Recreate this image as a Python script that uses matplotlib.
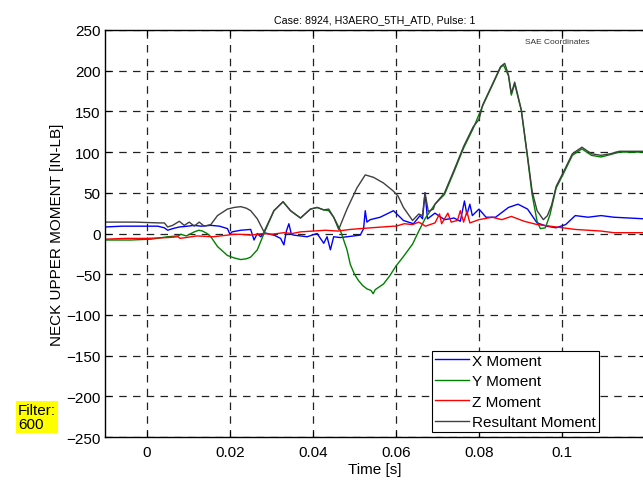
import numpy as np
import matplotlib
matplotlib.use("Agg")
import matplotlib.pyplot as plt

plt.rcParams['font.family'] = ['Liberation Sans', 'DejaVu Sans']

# (time [s], moment [in-lb]) samples for each channel
x_moment = [
    (-0.0101, 8), (-0.006, 9), (-0.003, 9), (0.0, 9), (0.0026, 9), (0.0042, 7), (0.005, 4),
    (0.0062, 6), (0.0078, 8), (0.0098, 9), (0.0114, 10), (0.013, 9), (0.0154, 10), (0.0175, 9),
    (0.0194, 6), (0.0200, -1), (0.0205, 2), (0.0226, 4), (0.025, 5), (0.0258, -8), (0.0266, 0),
    (0.0274, -4), (0.0282, 1), (0.0306, -2), (0.0322, -6), (0.033, -14), (0.0336, 3), (0.0342, 12),
    (0.0348, -1), (0.0354, -2), (0.0386, -4), (0.041, 0), (0.0418, -6), (0.0426, -12), (0.0434, -4),
    (0.0442, -20), (0.045, -4), (0.0466, -5), (0.0498, -3), (0.0514, -2), (0.0522, 6), (0.0526, 28),
    (0.053, 14), (0.0538, 17), (0.0562, 20), (0.0594, 28), (0.0618, 16), (0.0642, 12), (0.0658, 22),
    (0.0664, 18), (0.0670, 50), (0.0676, 18), (0.0694, 25), (0.0717, 17), (0.074, 19), (0.0755, 15),
    (0.0765, 40), (0.0771, 23), (0.0778, 36), (0.0784, 22), (0.08, 30), (0.0817, 20), (0.084, 20),
    (0.0871, 32), (0.0894, 36), (0.0917, 30), (0.094, 13), (0.0963, 9), (0.0986, 7), (0.1009, 11),
    (0.1032, 22), (0.1063, 20), (0.1094, 22), (0.1125, 20), (0.12, 18),
]

y_moment = [
    (-0.0101, -8), (-0.004, -8), (0.001, -7), (0.005, -4), (0.0075, -3), (0.0082, -1), (0.0095, -3),
    (0.0114, 2), (0.0125, 4), (0.0134, 3), (0.0145, 0), (0.0154, -4), (0.017, -16), (0.0194, -27),
    (0.021, -30), (0.0226, -32), (0.024, -31), (0.025, -29), (0.0266, -20), (0.0282, 0), (0.0306, 28),
    (0.0328, 39), (0.0346, 28), (0.037, 19), (0.0394, 30), (0.041, 32), (0.0426, 29), (0.0438, 28),
    (0.045, 20), (0.0466, 4), (0.0482, -20), (0.049, -38), (0.050, -50), (0.051, -58), (0.052, -64),
    (0.053, -68), (0.054, -70), (0.0545, -74), (0.055, -69), (0.057, -62), (0.0585, -52), (0.06, -40),
    (0.0617, -29), (0.064, -13), (0.0655, 3), (0.0671, 19), (0.0694, 36), (0.0717, 48), (0.074, 76),
    (0.0763, 105), (0.0786, 129), (0.0809, 157), (0.0832, 182), (0.0852, 204), (0.0859, 207),
    (0.0871, 194), (0.0878, 170), (0.0886, 184), (0.0902, 151), (0.0917, 93), (0.0928, 48), (0.094, 15),
    (0.0948, 6), (0.096, 7), (0.0971, 23), (0.0986, 56), (0.1002, 72), (0.1025, 96), (0.1048, 104),
    (0.1071, 96), (0.1094, 94), (0.1117, 97), (0.1138, 100), (0.12, 100),
]

z_moment = [
    (-0.0101, -7), (-0.005, -6), (0.0, -6), (0.005, -5), (0.0075, -4), (0.008, -6), (0.012, -3),
    (0.016, -4), (0.0194, -2), (0.0205, -1), (0.0226, -1), (0.025, -2), (0.028, 0), (0.03, -1),
    (0.033, 1), (0.035, 0), (0.037, 2), (0.04, 3), (0.043, 4), (0.046, 3), (0.049, 5), (0.0514, 6),
    (0.054, 7), (0.0594, 9), (0.06, 9), (0.062, 12), (0.064, 11), (0.0655, 14), (0.0671, 9),
    (0.0694, 13), (0.0705, 24), (0.071, 12), (0.0725, 25), (0.0733, 14), (0.0748, 16), (0.0755, 28),
    (0.0763, 14), (0.0771, 27), (0.0778, 13), (0.08, 17), (0.0832, 20), (0.0855, 17), (0.0878, 21),
    (0.0909, 15), (0.094, 11), (0.0971, 9), (0.1002, 7), (0.1032, 5), (0.1063, 4), (0.1094, 3),
    (0.1125, 1), (0.12, 1),
]

resultant_moment = [
    (-0.0101, 14), (-0.003, 14), (0.003, 13), (0.0042, 13), (0.005, 8), (0.0062, 10), (0.0078, 15),
    (0.009, 10), (0.0102, 14), (0.0114, 9), (0.0126, 14), (0.0138, 9), (0.0154, 11), (0.017, 22),
    (0.0194, 30), (0.021, 32), (0.0226, 33), (0.024, 31), (0.025, 28), (0.0266, 18), (0.0282, 2),
    (0.0306, 28), (0.0328, 39), (0.0346, 28), (0.037, 19), (0.0394, 30), (0.041, 32), (0.0426, 29),
    (0.0438, 30), (0.045, 20), (0.0462, 5), (0.0482, 30), (0.0506, 56), (0.0526, 72), (0.0546, 69),
    (0.057, 62), (0.0594, 52), (0.0605, 46), (0.0618, 32), (0.064, 16), (0.0655, 24), (0.0664, 22),
    (0.067, 50), (0.0678, 27), (0.069, 30), (0.0694, 36), (0.0717, 50), (0.074, 78), (0.0763, 107),
    (0.0786, 131), (0.08, 140), (0.0809, 158), (0.0832, 183), (0.0852, 205), (0.0862, 209),
    (0.0871, 195), (0.0878, 172), (0.0886, 186), (0.0902, 152), (0.0917, 95), (0.0928, 52),
    (0.094, 28), (0.0955, 17), (0.0965, 22), (0.0975, 35), (0.0986, 58), (0.1002, 74), (0.1025, 98),
    (0.1048, 106), (0.1071, 98), (0.1094, 96), (0.1117, 98), (0.1138, 101), (0.12, 101),
]

series_labels = ["X Moment", "Y Moment", "Z Moment", "Resultant Moment"]
series_colors = ["#0000ff", "#008000", "#ff0000", "#404040"]

x_ticks = [0, 0.02, 0.04, 0.06, 0.08, 0.1]
x_tick_labels = ["0", "0.02", "0.04", "0.06", "0.08", "0.1"]
y_ticks = list(range(-250, 251, 50))

fig = plt.figure(figsize=(6.43, 4.85), dpi=100)
ax = fig.add_axes([105 / 643, 47 / 485, 540 / 643, 407 / 485])

for data, label, color in zip([x_moment, y_moment, z_moment, resultant_moment],
                              series_labels, series_colors):
    arr = np.array(data, dtype=float)
    ax.plot(arr[:, 0], arr[:, 1], color=color, lw=1.0, label=label)

ax.set_xlim(-0.0101, 0.12)
ax.set_ylim(-250, 250)
ax.set_xticks(x_ticks)
ax.set_xticklabels(x_tick_labels)
ax.set_yticks(y_ticks)
ax.tick_params(direction='in', length=4, width=0.8, top=True, right=True,
               labelsize=11, colors='black', pad=3)
ax.tick_params(axis='x', pad=6)
ax.grid(True, color='#222222', linestyle=(0, (6, 5)), linewidth=0.9)
for s in ax.spines.values():
    s.set_linewidth(1.0)
    s.set_color('black')

ax.set_title("Case: 8924, H3AERO_5TH_ATD, Pulse: 1", fontsize=7.7, pad=6)
ax.set_xlabel("Time [s]", fontsize=11, labelpad=2)
ax.set_ylabel("NECK UPPER MOMENT [IN-LB]", fontsize=11, labelpad=2)

ax.text(0.0988, 236, "SAE Coordinates", fontsize=6, ha='center', va='center', color='#333333')

leg = ax.legend(loc='lower left', bbox_to_anchor=(327 / 540, 5 / 407), fontsize=11,
                frameon=True, fancybox=False, framealpha=1, edgecolor='black',
                handlelength=2.2, handletextpad=0.25, borderpad=0.2, labelspacing=0.42,
                borderaxespad=0.0)
leg.get_frame().set_linewidth(0.8)

fig.text(18 / 643, 1 - 418 / 485, "Filter:\n600", fontsize=11, ha='left', va='center',
         linespacing=1.0, bbox=dict(facecolor='yellow', edgecolor='none', pad=1.5))

fig.savefig("out.png", dpi=100)
